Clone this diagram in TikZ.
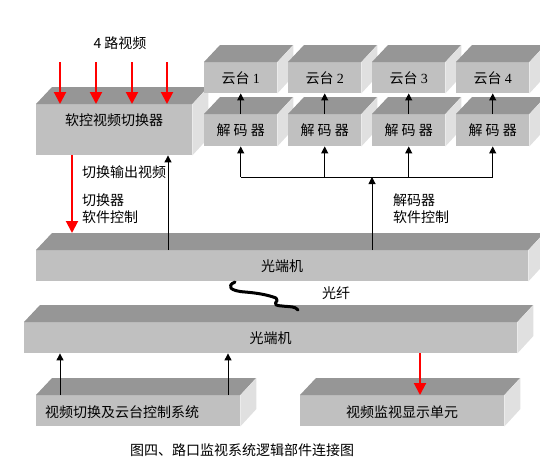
\documentclass[tikz,border=0pt]{standalone}
\usepackage{fontspec}
\setmainfont{Noto Sans CJK SC}
\newfontfamily\digitFont{Liberation Serif}
\usetikzlibrary{arrows.meta}
\tikzstyle{diagram} = [x = 1pt, y = -1pt]
\definecolor{frontGray}{RGB}{192,192,192}
\definecolor{topGray}{RGB}{150,150,150}
\definecolor{sideGray}{RGB}{224,224,224}
\definecolor{signalRed}{RGB}{255,0,0}
\tikzstyle{blockFront} = [fill=frontGray, inner sep=0pt, anchor=north west]
\tikzstyle{blockTop} = [fill=topGray]
\tikzstyle{blockSide} = [fill=sideGray]
\tikzstyle{blockText} = [font=\fontsize{14}{17}\selectfont, inner sep=0pt]
\tikzstyle{plainText} = [font=\fontsize{14}{17}\selectfont, inner sep=0pt, align=left, anchor=west]
\tikzstyle{controlArrow} = [black, line width=1pt, -{Triangle[length=7pt, width=7pt]}]
\tikzstyle{videoArrow} = [signalRed, line width=2pt, -{Triangle[length=12pt, width=12pt]}]
\tikzstyle{fiberLine} = [black, line width=3pt, line cap=round, line join=round]
\newcommand{\depthX}{16}
\newcommand{\depthY}{17}
% name, x, y, width, height, text, text shift
\newcommand{\block}[7]{
  \node [blockFront, minimum width = #4pt, minimum height = #5pt] (#1) at (#2, #3) {};
  \fill [blockTop] (#1.north west) -- ++(\depthX, -\depthY) -- ++(#4, 0) -- (#1.north east) -- cycle;
  \fill [blockSide] (#1.north east) -- ++(\depthX, -\depthY) -- ++(0, #5) -- (#1.south east) -- cycle;
  \coordinate (#1Top) at ([shift={(0, -\depthY)}]#1.north west);
  \node [blockText, shift={#7}] (#1Text) at (#1.center) {#6};
}

\begin{document}
\begin{tikzpicture}[diagram]
  \useasboundingbox (0, 0) rectangle (540, 471);

  % switcher with four video inputs
  \block{sw}{36}{104}{156}{51}{软控视频切换器}{(0, -9.5)}
  \node [blockText] (inLabel) at (120, 43) {4 路视频};
  \foreach \i/\xx in {1/60, 2/96, 3/132, 4/167} {
    \coordinate (in\i) at (\xx, 62);
    \draw [videoArrow] (in\i) -- (in\i |- sw.north);
  }

  % pan-tilt heads and decoders
  \foreach \i/\xx in {1/204, 2/288, 3/372, 4/456} {
    \block{yt\i}{\xx}{62}{73}{31}{云台 {\digitFont\i}}{(0, 0)}
    \block{dec\i}{\xx}{114}{73}{32}{解 码 器}{(0, 0)}
    \draw [controlArrow] (dec\i.north) -- (yt\i.south);
  }

  % upper optical terminal
  \block{optA}{36}{250}{492}{31}{光端机}{(0, 0)}
  \draw [videoArrow] ([xshift=36pt]sw.south west) -- ([xshift=36pt]optATop);
  \draw [controlArrow] ([xshift=132pt]optA.north west) -- ([xshift=132pt]sw.south west);
  \node [plainText] (outLabel) at (82, 172) {切换输出视频};
  \node [plainText] (swCtlLabel) at (82, 208.5) {切换器\\软件控制};

  % decoder control bus
  \coordinate (bus) at (372, 177);
  \draw [controlArrow] ([xshift=336pt]optA.north west) -- (bus);
  \draw [line width=1pt] (dec1.south |- bus) -- (dec4.south |- bus);
  \foreach \i in {1,...,4} {
    \draw [controlArrow] (dec\i.south |- bus) -- (dec\i.south);
  }
  \node [plainText] (decCtlLabel) at (393, 208.5) {解码器\\软件控制};

  % lower optical terminal and fibre
  \block{optB}{24}{322}{493}{31}{光端机}{(0, 0)}
  \coordinate (fiberA) at (235, 282);
  \coordinate (fiberB) at (298, 310);
  \draw [fiberLine] (fiberA) .. controls (226, 286) and (230, 291) .. (245, 292)
    .. controls (258, 293) and (268, 295) .. (276, 298)
    .. controls (281, 301) and (268, 305) .. (282, 306)
    .. controls (290, 307) and (295, 306) .. (fiberB);
  \node [blockText] (fiberLabel) at (336, 293) {光纤};

  % control system and monitor
  \block{ctl}{36}{395}{204}{31}{视频切换及云台控制系统}{(-16, 1)}
  \block{mon}{300}{395}{204}{31}{视频监视显示单元}{(0, 1)}
  \draw [controlArrow] ([xshift=24pt]ctl.north west) -- ([xshift=36pt]optB.south west);
  \draw [controlArrow] ([xshift=192pt]ctl.north west) -- ([xshift=204pt]optB.south west);
  \draw [videoArrow] ([xshift=396pt]optB.south west) -- ([xshift=120pt]mon.north west);

  \node [blockText] (caption) at (242, 450) {图四、路口监视系统逻辑部件连接图};
\end{tikzpicture}
\end{document}
